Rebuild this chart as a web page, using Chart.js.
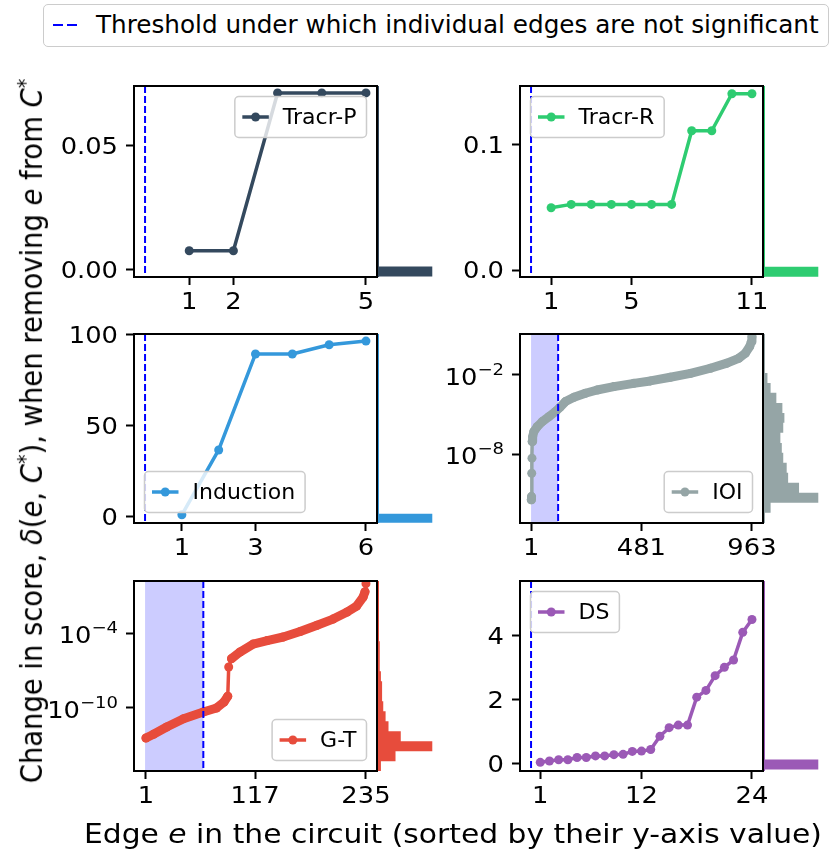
<!DOCTYPE html>
<html>
<head>
<meta charset="utf-8">
<title>Change in score per edge</title>
<script src="https://cdn.jsdelivr.net/npm/chart.js@4.4.1/dist/chart.umd.min.js"></script>
<style>
  body { margin: 0; background: #fff; }
  #fig { position: relative; width: 831px; height: 849px; overflow: hidden; background: #fff;
         font-family: "DejaVu Sans", sans-serif; color: #000; }
  #fig canvas { position: absolute; }
  #topLegend { position: absolute; left: 43px; top: 4px; width: 786px; height: 43px; box-sizing: border-box;
               border: 1.5px solid #ccc; border-radius: 5px; background: #fff; z-index: 5; }
  #topLegend .dash { position: absolute; left: 9px; top: 19px; width: 24px; height: 2px;
                     background: repeating-linear-gradient(90deg, #00f 0 10px, transparent 10px 14px); }
  #topLegend .txt { position: absolute; left: 52px; top: 0; line-height: 40px; font-size: 24px; white-space: nowrap;
                    transform: scaleX(1.028); transform-origin: left center; }
  .axlabel { position: absolute; font-size: 27.4px; white-space: nowrap; z-index: 5; }
  #ylabel { left: 32px; top: 431px; transform: translate(-50%, -50%) rotate(-90deg) scaleY(1.09); }
  #xlabel { left: 453px; top: 833px; transform: translate(-50%, -50%) scaleX(1.086); }
  sup { font-size: 70%; vertical-align: 0.45em; line-height: 0; }
</style>
</head>
<body>
<div id="fig">
  <div id="topLegend"><span class="dash"></span><span class="txt">Threshold under which individual edges are not significant</span></div>
  <div id="ylabel" class="axlabel">Change in score, <i>δ</i>(<i>e</i>, <i>C</i><sup>*</sup>), when removing <i>e</i> from <i>C</i><sup>*</sup></div>
  <div id="xlabel" class="axlabel">Edge <i>e</i> in the circuit (sorted by their y-axis value)</div>
</div>
<script>
// --- values ---

// Tracr-P
const TRACRP_X = [1, 2, 3, 4, 5];
const TRACRP_Y = [0.0077, 0.0077, 0.0714, 0.0714, 0.0714];
const TRACRP_XTICKS = [1, 2, 5];
const TRACRP_YTICKS = [0, 0.05];
const TRACRP_YLABELS = ['0.00', '0.05'];
const TRACRP_THRESHOLD = 0;
const TRACRP_HIST_EDGES = [0.0013, -0.0027];
const TRACRP_HIST_COUNTS = [5];

// Tracr-R
const TRACRR_X = [1, 2, 3, 4, 5, 6, 7, 8, 9, 10, 11];
const TRACRR_Y = [0.0498, 0.0525, 0.0525, 0.0525, 0.0525, 0.0525, 0.0525, 0.1114, 0.1114, 0.141, 0.141];
const TRACRR_XTICKS = [1, 5, 11];
const TRACRR_YTICKS = [0, 0.1];
const TRACRR_YLABELS = ['0.0', '0.1'];
const TRACRR_THRESHOLD = 0;
const TRACRR_HIST_EDGES = [0.0026, -0.0054];
const TRACRR_HIST_COUNTS = [11];

// Induction
const INDUCTION_X = [1, 2, 3, 4, 5, 6];
const INDUCTION_Y = [0.9, 36.6, 89.4, 89.4, 94.5, 96.5];
const INDUCTION_XTICKS = [1, 3, 6];
const INDUCTION_YTICKS = [0, 50, 100];
const INDUCTION_YLABELS = ['0', '50', '100'];
const INDUCTION_THRESHOLD = 0;
const INDUCTION_HIST_EDGES = [1.5, -3.5];
const INDUCTION_HIST_COUNTS = [6];

// IOI (log y)
const IOI_X = [1, 2, 3, 4, 5, 7, 12, 27, 49, 78, 107, 126, 150, 187, 237, 288, 361, 448, 520, 607,
               695, 782, 854, 905, 934, 953, 960, 963];
const IOI_Y = [3.4e-12, 6.0e-12, 3.5e-10, 4.9e-9, 8.9e-8, 2.1e-7, 5.0e-7, 1.2e-6, 2.9e-6, 6.9e-6,
               1.7e-5, 3.5e-5, 9.5e-5, 2.0e-4, 4.1e-4, 7.2e-4, 1.3e-3, 2.3e-3, 3.5e-3, 6.6e-3,
               1.3e-2, 3.2e-2, 7.8e-2, 0.18, 0.44, 1.4, 3.2, 7.9];
const IOI_XTICKS = [1, 481, 963];
const IOI_YTICKS = [1e-8, 1e-2];
const IOI_YLABELS = [['10', '−8'], ['10', '−2']];
const IOI_THRESHOLD = 118;
// histogram bins in log10 units, top to bottom
const IOI_HIST_EDGES = [-1.85, -2.61, -3.36, -4.12, -4.88, -5.63, -6.39, -7.15, -7.90, -8.66,
                        -9.42, -10.17, -10.93, -11.69, -12.44];
const IOI_HIST_COUNTS = [12, 23, 43, 64, 71, 67, 57, 62, 67, 79, 84, 122, 189, 23];

// G-T (log y)
const GT_X = [1, 9, 23, 41, 62, 76, 84, 88, 89, 92, 101, 115, 130, 147, 165, 183, 200, 215, 225, 232, 234, 235];
const GT_Y = [4.0e-13, 7.9e-13, 3.0e-12, 1.4e-11, 4.8e-11, 1.0e-10, 3.0e-10, 8.7e-10, 1.9e-7, 8.9e-7,
              3.0e-6, 1.3e-5, 2.5e-5, 4.8e-5, 1.3e-4, 4.2e-4, 1.3e-3, 4.8e-3, 1.4e-2, 7.6e-2, 0.2, 0.89];
const GT_XTICKS = [1, 117, 235];
const GT_YTICKS = [1e-10, 1e-4];
const GT_YLABELS = [['10', '−10'], ['10', '−4']];
const GT_THRESHOLD = 62;
const GT_HIST_EDGES = [-4.66, -5.46, -6.26, -7.06, -7.86, -8.66, -9.46, -10.26, -11.06, -11.86,
                       -12.66, -13.46, -14.26, -15.04];
const GT_HIST_COUNTS = [3, 3, 3, 5, 7, 7, 9, 13, 18, 39, 93, 30, 5];

// DS
const DS_X = [1, 2, 3, 4, 5, 6, 7, 8, 9, 10, 11, 12, 13, 14, 15, 16, 17, 18, 19, 20, 21, 22, 23, 24];
const DS_Y = [0.04, 0.08, 0.12, 0.12, 0.19, 0.19, 0.24, 0.24, 0.28, 0.29, 0.38, 0.39,
              0.44, 0.85, 1.12, 1.2, 1.2, 2.07, 2.28, 2.74, 3.0, 3.23, 4.09, 4.49];
const DS_XTICKS = [1, 12, 24];
const DS_YTICKS = [0, 2, 4];
const DS_YLABELS = ['0', '2', '4'];
const DS_THRESHOLD = 0;
const DS_HIST_EDGES = [0.13, -0.18];
const DS_HIST_COUNTS = [24];

// --- layout / style ---
const FONT = "'DejaVu Sans', sans-serif";
const TICK_FONT = 23;
const TICK_SX = 1.12;      // tick labels in the figure are a little wide
const LEGEND_FONT = 22;
const TICK_LEN = 8;
const TICK_PAD = 8;
const PAD_L = 112, PAD_T = 22, PAD_R = 40, PAD_B = 50;
const HIST_W = 57;

const panels = [
  { name: 'Tracr-P', color: '#34495e', xs: TRACRP_X, ys: TRACRP_Y, thr: TRACRP_THRESHOLD,
    xlim: [-0.25, 5.25], xticks: TRACRP_XTICKS, ylim: [-0.0029, 0.0742],
    yticks: TRACRP_YTICKS, ylabels: TRACRP_YLABELS,
    hist: { edges: TRACRP_HIST_EDGES, counts: TRACRP_HIST_COUNTS }, legend: 'ur', box: [134, 86, 243, 191] },
  { name: 'Tracr-R', color: '#2ecc71', xs: TRACRR_X, ys: TRACRR_Y, thr: TRACRR_THRESHOLD,
    xlim: [-0.55, 11.55], xticks: TRACRR_XTICKS, ylim: [-0.0056, 0.1472],
    yticks: TRACRR_YTICKS, ylabels: TRACRR_YLABELS,
    hist: { edges: TRACRR_HIST_EDGES, counts: TRACRR_HIST_COUNTS }, legend: 'ul', box: [520, 86, 243, 191] },
  { name: 'Induction', color: '#3498db', xs: INDUCTION_X, ys: INDUCTION_Y, thr: INDUCTION_THRESHOLD,
    xlim: [-0.3, 6.3], xticks: INDUCTION_XTICKS, ylim: [-3.6, 100.4],
    yticks: INDUCTION_YTICKS, ylabels: INDUCTION_YLABELS,
    hist: { edges: INDUCTION_HIST_EDGES, counts: INDUCTION_HIST_COUNTS }, legend: 'll', box: [134, 334, 243, 189] },
  { name: 'IOI', color: '#95a5a6', xs: IOI_X, ys: IOI_Y, thr: IOI_THRESHOLD, log: true, band: true,
    xlim: [-48.15, 1011.15], xticks: IOI_XTICKS, ylim: [6.0e-14, 12.6], histRange: [-13.22, 1.10],
    yticks: IOI_YTICKS, ylabels: IOI_YLABELS,
    hist: { edges: IOI_HIST_EDGES, counts: IOI_HIST_COUNTS }, legend: 'lr', box: [520, 334, 243, 189] },
  { name: 'G-T', color: '#e74c3c', xs: GT_X, ys: GT_Y, thr: GT_THRESHOLD, log: true, band: true,
    xlim: [-11.75, 246.75], xticks: GT_XTICKS, ylim: [9.1e-16, 1.45], histRange: [-15.04, 0.16],
    yticks: GT_YTICKS, ylabels: GT_YLABELS,
    hist: { edges: GT_HIST_EDGES, counts: GT_HIST_COUNTS }, legend: 'lr', box: [134, 581, 243, 190] },
  { name: 'DS', color: '#9b59b6', xs: DS_X, ys: DS_Y, thr: DS_THRESHOLD,
    xlim: [-1.2, 25.2], xticks: DS_XTICKS, ylim: [-0.23, 5.69],
    yticks: DS_YTICKS, ylabels: DS_YLABELS,
    hist: { edges: DS_HIST_EDGES, counts: DS_HIST_COUNTS }, legend: 'ul', box: [520, 581, 243, 190] }
];

const fig = document.getElementById('fig');
Chart.defaults.font.family = FONT;
Chart.defaults.color = '#000';

function roundedBox(ctx, x, y, w, h, r) {
  ctx.beginPath();
  ctx.moveTo(x + r, y);
  ctx.arcTo(x + w, y, x + w, y + h, r);
  ctx.arcTo(x + w, y + h, x, y + h, r);
  ctx.arcTo(x, y + h, x, y, r);
  ctx.arcTo(x, y, x + w, y, r);
  ctx.closePath();
}

// text stretched horizontally around its anchor
function tickText(ctx, text, x, y, align, size) {
  ctx.save();
  ctx.translate(x, y);
  ctx.scale(TICK_SX, 1);
  ctx.font = `${size}px ${FONT}`;
  ctx.textAlign = align;
  ctx.textBaseline = 'alphabetic';
  ctx.fillStyle = '#000';
  ctx.fillText(text, 0, 0);
  ctx.restore();
}

function textWidth(ctx, text, size) {
  ctx.font = `${size}px ${FONT}`;
  return ctx.measureText(text).width * TICK_SX;
}

// shading, threshold line, frame, inner legend and tick labels
function decor(p) {
  return {
    id: 'decor',
    beforeDatasetsDraw(chart) {
      if (p.thr <= 0) return;
      const { ctx, chartArea: a, scales: { x } } = chart;
      const x0 = x.getPixelForValue(0), x1 = x.getPixelForValue(p.thr);
      ctx.save();
      ctx.fillStyle = 'rgba(0, 0, 255, 0.2)';
      ctx.fillRect(x0, a.top, x1 - x0, a.bottom - a.top);
      ctx.restore();
    },
    afterDatasetsDraw(chart) {
      const { ctx, chartArea: a, scales: { x } } = chart;
      ctx.save();
      // threshold
      const xt = x.getPixelForValue(p.thr);
      ctx.strokeStyle = '#0000ff';
      ctx.lineWidth = 2;
      ctx.setLineDash([7, 3]);
      ctx.beginPath();
      ctx.moveTo(xt, a.top);
      ctx.lineTo(xt, a.bottom);
      ctx.stroke();
      ctx.setLineDash([]);
      // frame
      ctx.strokeStyle = '#000';
      ctx.lineWidth = 2;
      ctx.strokeRect(a.left, a.top, a.right - a.left, a.bottom - a.top);
      // legend
      ctx.font = `${LEGEND_FONT}px ${FONT}`;
      const tw = ctx.measureText(p.name).width;
      const w = 48 + tw + 10, h = 41, m = 10.5;
      const lx = p.legend[1] === 'r' ? a.right - m - w : a.left + m;
      const ly = p.legend[0] === 'u' ? a.top + m : a.bottom - m - h;
      roundedBox(ctx, lx, ly, w, h, 4);
      ctx.fillStyle = 'rgba(255, 255, 255, 0.8)';
      ctx.fill();
      ctx.strokeStyle = '#cccccc';
      ctx.lineWidth = 1.5;
      ctx.stroke();
      const cy = ly + h / 2;
      ctx.strokeStyle = p.color;
      ctx.lineWidth = 3.5;
      ctx.beginPath();
      ctx.moveTo(lx + 7.5, cy);
      ctx.lineTo(lx + 34, cy);
      ctx.stroke();
      ctx.fillStyle = p.color;
      ctx.beginPath();
      ctx.arc(lx + 20.75, cy, 4.5, 0, Math.PI * 2);
      ctx.fill();
      ctx.fillStyle = '#000';
      ctx.textAlign = 'left';
      ctx.textBaseline = 'middle';
      ctx.fillText(p.name, lx + 48, cy + 1);
      ctx.restore();
    },
    afterDraw(chart) {
      const { ctx, chartArea: a, scales: { x, y } } = chart;
      const digitHalf = TICK_FONT * 0.3645;
      // x tick labels
      p.xticks.forEach(v => {
        tickText(ctx, String(v), x.getPixelForValue(v), a.bottom + 24 + digitHalf, 'center', TICK_FONT);
      });
      // y tick labels
      const right = a.left - TICK_LEN - TICK_PAD;
      p.yticks.forEach((v, i) => {
        const py = y.getPixelForValue(v);
        if (!p.log) {
          tickText(ctx, p.ylabels[i], right, py + digitHalf, 'right', TICK_FONT);
          return;
        }
        const [base, exp] = p.ylabels[i];
        const small = TICK_FONT * 0.7;
        const we = textWidth(ctx, exp, small);
        const wb = textWidth(ctx, base, TICK_FONT);
        const baseY = py + 2 + digitHalf;
        tickText(ctx, base, right - we - wb, baseY, 'left', TICK_FONT);
        tickText(ctx, exp, right - we, baseY - TICK_FONT * 0.45, 'left', small);
      });
    }
  };
}

// thick marker band for long series, thin stroke on near-vertical jumps
function bandWidth(c) {
  const dx = Math.abs(c.p1.x - c.p0.x), dy = Math.abs(c.p1.y - c.p0.y);
  return (dx < 3 && dy > 8) ? 3.5 : 9;
}

function makeMain(p) {
  const [bx, by, bw, bh] = p.box;
  const cv = document.createElement('canvas');
  cv.width = bw + PAD_L + PAD_R;
  cv.height = bh + PAD_T + PAD_B;
  cv.style.left = (bx - PAD_L) + 'px';
  cv.style.top = (by - PAD_T) + 'px';
  fig.appendChild(cv);

  const grid = { drawOnChartArea: false, drawTicks: true, tickLength: TICK_LEN, tickWidth: 2, tickColor: '#000' };

  new Chart(cv, {
    type: 'line',
    data: {
      datasets: [{
        data: p.xs.map((x, i) => ({ x, y: p.ys[i] })),
        borderColor: p.color,
        backgroundColor: p.color,
        pointBackgroundColor: p.color,
        borderWidth: 3.5,
        pointRadius: 4.5,
        pointBorderWidth: 0,
        borderJoinStyle: 'round',
        borderCapStyle: 'round',
        fill: false,
        clip: 0,
        segment: p.band ? { borderWidth: bandWidth } : undefined
      }]
    },
    options: {
      responsive: false,
      animation: false,
      events: [],
      layout: { padding: { left: 0, top: PAD_T, right: PAD_R, bottom: 0 } },
      plugins: { legend: { display: false }, tooltip: { enabled: false } },
      scales: {
        x: {
          type: 'linear', bounds: 'data', min: p.xlim[0], max: p.xlim[1],
          afterBuildTicks: s => { s.ticks = p.xticks.map(v => ({ value: v })); },
          afterFit: s => { s.height = PAD_B; s.paddingLeft = 0; s.paddingRight = 0; },
          ticks: { autoSkip: false, maxRotation: 0, callback: () => '' },
          grid: grid,
          border: { display: false }
        },
        y: {
          type: p.log ? 'logarithmic' : 'linear', bounds: 'data', min: p.ylim[0], max: p.ylim[1],
          afterBuildTicks: s => { s.ticks = p.yticks.map(v => ({ value: v })); },
          afterFit: s => { s.width = PAD_L; s.paddingTop = 0; s.paddingBottom = 0; },
          ticks: { autoSkip: false, callback: () => '' },
          grid: grid,
          border: { display: false }
        }
      }
    },
    plugins: [decor(p)]
  });
}

// horizontal step histogram as a closed outline
function histOutline(edges, counts) {
  const pts = [{ x: 0, y: edges[0] }];
  counts.forEach((c, i) => {
    pts.push({ x: c, y: edges[i] }, { x: c, y: edges[i + 1] });
  });
  pts.push({ x: 0, y: edges[edges.length - 1] });
  return pts;
}

function makeHist(p) {
  const [bx, by, bw, bh] = p.box;
  const cv = document.createElement('canvas');
  cv.width = HIST_W;
  cv.height = bh;
  cv.style.left = (bx + bw + 1) + 'px';
  cv.style.top = by + 'px';
  fig.appendChild(cv);
  const yr = p.histRange || p.ylim;

  new Chart(cv, {
    type: 'line',
    data: {
      datasets: [
        { data: histOutline(p.hist.edges, p.hist.counts), borderWidth: 0, pointRadius: 0,
          backgroundColor: p.color, fill: 'shape', clip: false },
        { data: [{ x: 0, y: yr[0] }, { x: 0, y: yr[1] }], borderColor: p.color, borderWidth: 2,
          pointRadius: 0, fill: false, clip: false }
      ]
    },
    options: {
      responsive: false,
      animation: false,
      events: [],
      layout: { padding: 0 },
      plugins: { legend: { display: false }, tooltip: { enabled: false } },
      scales: {
        x: { type: 'linear', display: false, bounds: 'data', min: 0, max: Math.max(...p.hist.counts) * 1.05 },
        y: { type: 'linear', display: false, bounds: 'data', min: yr[0], max: yr[1] }
      }
    }
  });
}

panels.forEach(p => { makeMain(p); makeHist(p); });
</script>
</body>
</html>
